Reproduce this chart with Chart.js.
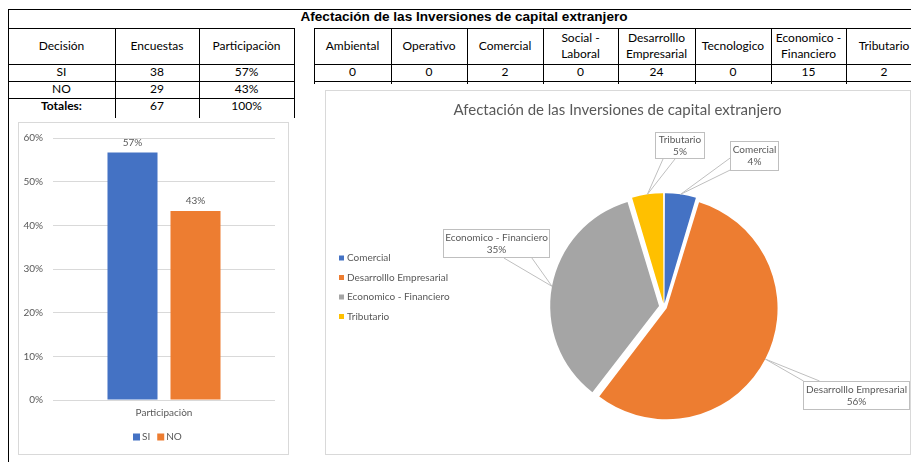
<!DOCTYPE html>
<html><head><meta charset="utf-8">
<script src="https://cdn.jsdelivr.net/npm/chart.js@4.4.0/dist/chart.umd.min.js"></script>
<style>
html,body{margin:0;padding:0;}
body{width:911px;height:462px;overflow:hidden;background:#fff;position:relative;font-family:Lato,'Noto Sans',sans-serif;}
.ln{position:absolute;background:#000;}
.cell{position:absolute;display:flex;align-items:center;justify-content:center;text-align:center;font-size:12px;color:#000;line-height:1.35;box-sizing:border-box;padding:0 3px;}
#title{position:absolute;left:0;width:928px;top:9px;height:19px;line-height:19px;text-align:center;font:bold 13.6px 'Liberation Sans',Arial,sans-serif;color:#000;}
.panel{position:absolute;border:1px solid #d9d9d9;box-sizing:border-box;pointer-events:none;}
canvas{position:absolute;}
</style></head><body>
<div id="title"></div>
<div id="sheet"></div>
<canvas id="bar" width="270" height="332" style="left:18px;top:122px;width:270px;height:332px"></canvas>
<div class="panel" style="left:18px;top:122px;width:271px;height:333px"></div>
<canvas id="pie" width="585" height="364" style="left:325px;top:90px;width:585px;height:364px"></canvas>
<div class="panel" style="left:325px;top:90px;width:586px;height:365px"></div>
<script>
// ---------- data ----------
const sheetTitle = 'Afectación de las Inversiones de capital extranjero';
const decisionHeaders = ['Decisión', 'Encuestas', 'Participaciòn'];
const decisionLabels = ['SI', 'NO', 'Totales:'];
const encuestas = [38, 29, 67];
const participacionText = ['57%', '43%', '100%'];

const barCategories = ['Participaciòn'];
const barSeries = ['SI', 'NO'];
const barValues = [56.7, 43.3];           // percent
const barTicks = [0, 10, 20, 30, 40, 50, 60];

const factorNames = ['Ambiental', 'Operativo', 'Comercial', 'Social - Laboral', 'Desarrolllo Empresarial', 'Tecnologico', 'Economico - Financiero', 'Tributario'];
const factorCounts = [0, 0, 2, 0, 24, 0, 15, 2];

const pieLabels = ['Comercial', 'Desarrolllo Empresarial', 'Economico - Financiero', 'Tributario'];
const pieValues = [2, 24, 15, 2];
const piePercentText = ['4%', '56%', '35%', '5%'];

// ---------- sheet grid (layout) ----------
const sheet = document.getElementById('sheet');
document.getElementById('title').textContent = sheetTitle;
function line(x, y, w, h) { const d = document.createElement('div'); d.className = 'ln'; d.style.cssText = `left:${x}px;top:${y}px;width:${w}px;height:${h}px`; sheet.appendChild(d); }
function cell(x1, x2, y1, y2, text, bold) { const d = document.createElement('div'); d.className = 'cell'; d.style.cssText = `left:${x1}px;top:${y1}px;width:${x2 - x1}px;height:${y2 - y1}px;` + (bold ? 'font-weight:bold;' : ''); d.textContent = text; sheet.appendChild(d); }

line(8, 9, 903, 1);      // sheet top
line(8, 9, 1, 453);      // sheet left
const lCols = [8, 115, 199, 294];
const lRows = [28, 64, 81, 98, 115];
line(8, 28, 287, 1);
for (let i = 1; i < 4; i++) line(8, lRows[i], 287, 1);
for (let i = 1; i < 4; i++) line(lCols[i], 28, 1, 90);
decisionHeaders.forEach((h, i) => cell(lCols[i], lCols[i + 1], lRows[0], lRows[1], h));
decisionLabels.forEach((lab, r) => {
  cell(lCols[0], lCols[1], lRows[r + 1], lRows[r + 2], lab, r === 2);
  cell(lCols[1], lCols[2], lRows[r + 1], lRows[r + 2], String(encuestas[r]));
  cell(lCols[2], lCols[3], lRows[r + 1], lRows[r + 2], participacionText[r]);
});

const rCols = [314, 391, 467, 543, 618, 695, 771, 846, 922];
const rRows = [28, 64, 81];
line(314, 28, 600, 1);
line(314, 64, 600, 1);
line(314, 81, 600, 1);
for (let i = 0; i < 8; i++) line(rCols[i], 28, 1, 56);
factorNames.forEach((n, i) => {
  cell(rCols[i], rCols[i + 1], rRows[0], rRows[1], n);
  cell(rCols[i], rCols[i + 1], rRows[1], rRows[2], String(factorCounts[i]));
});

// ---------- charts ----------
const FONT = 'Lato';
const GREY = '#595959';
const colors = { SI: '#4472C4', NO: '#ED7D31' };
const pieColors = ['#4472C4', '#ED7D31', '#A5A5A5', '#FFC000'];

const barDecor = {
  id: 'barDecor',
  afterDatasetsDraw(chart, args, opts) {
    const ctx = chart.ctx;
    ctx.save();
    ctx.font = `10px ${FONT}`; ctx.fillStyle = GREY; ctx.textAlign = 'center'; ctx.textBaseline = 'bottom';
    chart.data.datasets.forEach((ds, i) => {
      chart.getDatasetMeta(i).data.forEach((el, j) => {
        ctx.fillText(Math.round(ds.data[j]) + '%', el.x, el.y - 5);
      });
    });
    // legend
    ctx.textAlign = 'left'; ctx.textBaseline = 'middle';
    let x = opts.legendX;
    chart.data.datasets.forEach(ds => {
      ctx.fillStyle = ds.backgroundColor;
      ctx.fillRect(x, opts.legendY - 3.5, 7, 7);
      ctx.fillStyle = GREY;
      ctx.fillText(ds.label, x + 9, opts.legendY);
      x += 9 + ctx.measureText(ds.label).width + 7;
    });
    ctx.restore();
  }
};

new Chart(document.getElementById('bar'), {
  type: 'bar',
  data: {
    labels: barCategories,
    datasets: barSeries.map((s, i) => ({ label: s, data: [barValues[i]], backgroundColor: colors[s], categoryPercentage: 0.5676, barPercentage: 0.794 }))
  },
  options: {
    animation: false, responsive: false, devicePixelRatio: 1,
    layout: { padding: { top: 14, right: 13, bottom: 30, left: 0 } },
    plugins: {
      legend: { display: false },
      tooltip: { enabled: false },
      barDecor: { legendX: 115, legendY: 315 }
    },
    scales: {
      x: { grid: { display: false, drawTicks: false }, border: { display: false },
           ticks: { padding: 7, color: GREY, font: { size: 10, family: FONT } },
           afterFit(s) { s.height = 24; } },
      y: { min: 0, max: 60, afterBuildTicks(s) { s.ticks = barTicks.map(v => ({ value: v })); },
           ticks: { callback: v => v + '%', color: GREY, font: { size: 10, family: FONT }, padding: 10 },
           grid: { color: '#d9d9d9', drawTicks: false }, border: { display: false },
           afterFit(s) { s.width = 35; } }
    }
  },
  plugins: [barDecor]
});

// explode each slice by the same visual distance (Chart.js moves an arc by offset/4*(1+fix))
const EXPLODE = 6;
const pieTotal = pieValues.reduce((a, b) => a + b, 0);
function arcShift(circ) { return 1 + (1 - Math.sin(Math.min(Math.PI, circ))); }
const pieOffsets = pieValues.map(v => 4 * EXPLODE / arcShift(v / pieTotal * 2 * Math.PI));

const pieDecor = {
  id: 'pieDecor',
  afterDatasetsDraw(chart, args, opts) {
    const ctx = chart.ctx;
    ctx.save();
    // title
    ctx.font = `${opts.titleSize}px ${FONT}`; ctx.fillStyle = GREY; ctx.textAlign = 'center'; ctx.textBaseline = 'middle';
    ctx.fillText(opts.title, chart.width / 2, opts.titleY);
    // legend
    ctx.font = `10px ${FONT}`; ctx.textAlign = 'left';
    chart.data.labels.forEach((lab, i) => {
      const y = opts.legendY + i * opts.legendStep;
      ctx.fillStyle = chart.data.datasets[0].backgroundColor[i];
      ctx.fillRect(opts.legendX, y - 2.5, 5, 5);
      ctx.fillStyle = GREY;
      ctx.fillText(lab, opts.legendX + 8, y);
    });
    // callouts
    const meta = chart.getDatasetMeta(0);
    meta.data.forEach((arc, i) => {
      const b = opts.boxes[i];
      const off = chart.data.datasets[0].offset[i];
      const mid = (arc.startAngle + arc.endAngle) / 2;
      const shift = off / 4 * arcShift(arc.circumference);
      const r = arc.outerRadius + shift;
      const A = { x: arc.x + Math.cos(mid) * r, y: arc.y + Math.sin(mid) * r };
      let p1, p2;
      if (b.edge === 'bottom') { const bx = b.x + b.w * b.at; p1 = { x: bx - b.hw, y: b.y + b.h }; p2 = { x: bx + b.hw, y: b.y + b.h }; }
      else if (b.edge === 'top') { const bx = b.x + b.w * b.at; p1 = { x: bx - b.hw, y: b.y }; p2 = { x: bx + b.hw, y: b.y }; }
      else { const by = b.y + b.h * b.at; p1 = { x: b.x, y: by - b.hw }; p2 = { x: b.x, y: by + b.hw }; }
      ctx.strokeStyle = '#bfbfbf'; ctx.lineWidth = 1;
      ctx.beginPath(); ctx.moveTo(p1.x, p1.y); ctx.lineTo(A.x, A.y); ctx.lineTo(p2.x, p2.y); ctx.stroke();
      ctx.fillStyle = '#fff'; ctx.fillRect(b.x, b.y, b.w, b.h);
      ctx.strokeRect(b.x + 0.5, b.y + 0.5, b.w - 1, b.h - 1);
      ctx.fillStyle = GREY; ctx.font = `10px ${FONT}`; ctx.textAlign = 'center'; ctx.textBaseline = 'middle';
      ctx.fillText(chart.data.labels[i], b.x + b.w / 2, b.y + b.h / 2 - 6);
      ctx.fillText(piePercentText[i], b.x + b.w / 2, b.y + b.h / 2 + 6);
    });
    ctx.restore();
  }
};

new Chart(document.getElementById('pie'), {
  type: 'pie',
  data: {
    labels: pieLabels,
    datasets: [{ data: pieValues, backgroundColor: pieColors, borderWidth: 0, offset: pieOffsets, hoverOffset: 0 }]
  },
  options: {
    animation: false, responsive: false, devicePixelRatio: 1,
    layout: { padding: { left: 221, right: 128, top: 99, bottom: 29 } },
    plugins: {
      legend: { display: false }, tooltip: { enabled: false },
      pieDecor: {
        title: sheetTitle, titleSize: 15, titleY: 20,
        legendX: 14, legendY: 168, legendStep: 19.5,
        boxes: [
          { x: 405, y: 51, w: 49, h: 30, edge: 'left', at: 0.77, hw: 6 },
          { x: 478, y: 291, w: 107, h: 29, edge: 'top', at: 0.08, hw: 8 },
          { x: 118, y: 139, w: 107, h: 29, edge: 'bottom', at: 0.70, hw: 14 },
          { x: 330, y: 42, w: 50, h: 27, edge: 'bottom', at: 0.28, hw: 6 }
        ]
      }
    }
  },
  plugins: [pieDecor]
});
</script>
</body></html>
